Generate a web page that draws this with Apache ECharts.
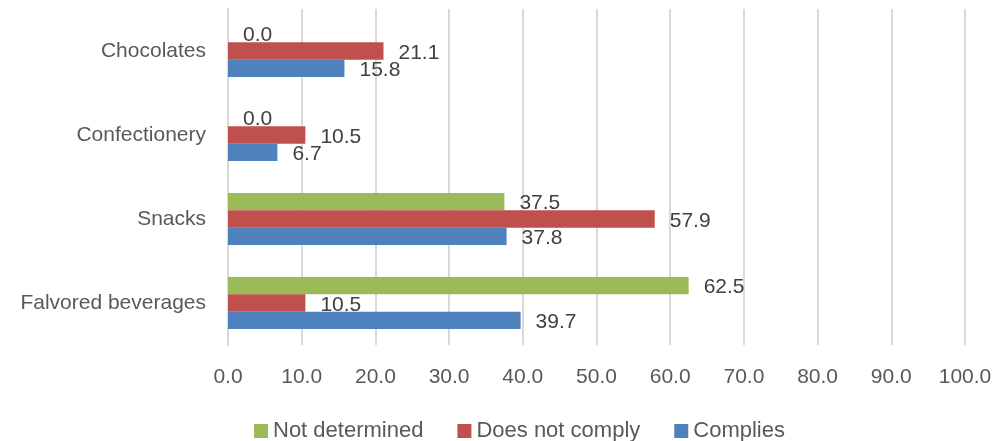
<!DOCTYPE html>
<html><head><meta charset="utf-8">
<script src="https://cdn.jsdelivr.net/npm/echarts@6/dist/echarts.min.js"></script>
<style>html,body{margin:0;padding:0;background:#fff}#c{width:999px;height:441px}</style>
</head><body><div id="c"></div>
<script>
const categories = ['Falvored beverages', 'Snacks', 'Confectionery', 'Chocolates'];
const complies = [39.7, 37.8, 6.7, 15.8];
const doesNotComply = [10.5, 57.9, 10.5, 21.1];
const notDetermined = [62.5, 37.5, 0.0, 0.0];
const xTicks = [0, 10, 20, 30, 40, 50, 60, 70, 80, 90, 100];

const FONT = 'Liberation Sans';
const chart = echarts.init(document.getElementById('c'), null, {renderer: 'canvas'});
const lbl = {show: true, position: 'right', distance: 15, offset: [0, 2], color: '#404040', fontFamily: FONT, fontSize: 21,
  formatter: p => p.value.toFixed(1)};
const bar = {type: 'bar', barGap: '0%', barCategoryGap: '38%', label: lbl};
chart.setOption({
  animation: false,
  textStyle: {fontFamily: FONT},
  grid: {left: 228, right: 34, top: 9, bottom: 96, containLabel: false},
  xAxis: {type: 'value', min: xTicks[0], max: xTicks[xTicks.length - 1], interval: 10,
    axisLine: {show: false}, axisTick: {show: false},
    splitLine: {lineStyle: {color: '#d9d9d9', width: 2}},
    axisLabel: {color: '#595959', fontSize: 21, fontFamily: FONT, margin: 22, formatter: v => v.toFixed(1)}},
  yAxis: {type: 'category', data: categories,
    axisLine: {lineStyle: {color: '#d9d9d9', width: 2}}, axisTick: {show: false},
    axisLabel: {color: '#595959', fontSize: 21, fontFamily: FONT, margin: 22}},
  legend: {data: ['Not determined', 'Does not comply', 'Complies'], top: 415, left: 249,
    itemWidth: 14, itemHeight: 14, itemGap: 34, icon: 'rect',
    textStyle: {color: '#595959', fontSize: 22, fontFamily: FONT}},
  series: [
    Object.assign({name: 'Not determined', data: notDetermined, itemStyle: {color: '#9BBB59'}}, bar),
    Object.assign({name: 'Does not comply', data: doesNotComply, itemStyle: {color: '#C0504D'}}, bar),
    Object.assign({name: 'Complies', data: complies, itemStyle: {color: '#4F81BD'}}, bar)
  ]
});
</script></body></html>
